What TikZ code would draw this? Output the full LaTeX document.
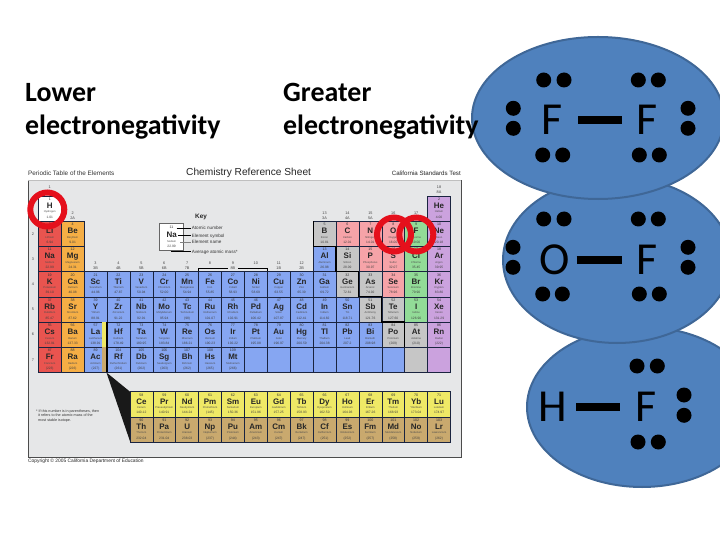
\documentclass[tikz,border=0pt]{standalone}
\usepackage{fontspec}
\usetikzlibrary{shapes.geometric}
\setmainfont{Liberation Sans}
\newfontfamily\headfont{Carlito}
\definecolor{cola}{HTML}{E9544F}
\definecolor{cole}{HTML}{F5AE45}
\definecolor{colt}{HTML}{86A6F2}
\definecolor{colm}{HTML}{C6C6C6}
\definecolor{coln}{HTML}{F6A3A8}
\definecolor{colg}{HTML}{92DB97}
\definecolor{colp}{HTML}{CBA2DE}
\definecolor{colh}{HTML}{FFFFFF}
\definecolor{coll}{HTML}{EFE966}
\definecolor{colc}{HTML}{C9A96E}
\definecolor{panel}{HTML}{E6E7E8}
\definecolor{ink}{HTML}{1A2440}
\definecolor{blob}{HTML}{4F81BD}
\definecolor{blobline}{HTML}{3F6797}
\definecolor{ringred}{HTML}{E5101C}
\newcommand{\fs}[1]{\fontsize{#1}{#1}\selectfont}
\tikzset{
  x=1bp,y=-1bp,
  cellbox/.style={draw=ink,line width=0.5bp,minimum width=22.9bp,minimum height=25.2bp,anchor=north west,inner sep=0,outer sep=0},
  tnum/.style={inner sep=0,font=\fs{3.6},text=black!80,text height=2.6bp,text depth=0pt},
  tsym/.style={inner sep=0,font=\fs{8}\bfseries,text=black!85,text height=5.8bp,text depth=0pt},
  tname/.style={inner sep=0,font=\fs{2.7},text=black!70,text height=2bp,text depth=0pt},
  tmass/.style={inner sep=0,font=\fs{3.3},text=black!75,text height=2.4bp,text depth=0pt},
  grp/.style={inner sep=0,font=\fs{3.8},text=black!75,text height=2.7bp,text depth=0pt},
  keytxt/.style={inner sep=0,anchor=west,font=\fs{4.6},text=black!80,text height=3.3bp,text depth=0pt},
  keyline/.style={draw=black,line width=0.5bp},
  stair/.style={draw=black,line width=1.1bp},
  ringmark/.style={draw=ringred,line width=6bp},
  molblob/.style={draw=blobline,line width=2bp,fill=blob},
  edot/.style={circle,fill=black,minimum size=15bp,inner sep=0},
  atomlabel/.style={inner sep=0,font=\headfont\fs{46},text=black,text height=29.6bp,text depth=0pt},
  bond/.style={draw=black,line width=8.3bp},
  heading/.style={inner sep=0,anchor=base west,font=\headfont\bfseries\fs{28},text=black},
}
\begin{document}
\begin{tikzpicture}
\fill[white] (0,0) rectangle (720,540);
\useasboundingbox (0,0) rectangle (720,540);
% panel
\fill[panel] (28,180) rectangle (461,457);
\draw[black!70,line width=0.8bp] (28,180) -- (28,457) -- (461,457) -- (461,180);
\draw[black!25,line width=0.8bp] (28,180) -- (461,180);
\node[inner sep=0,anchor=base west,font=\fs{6.4},text=black!80] (ttl) at (28,176) {Periodic Table of the Elements};
\node[inner sep=0,anchor=base west,font=\fs{10.2},text=black!85] (ttm) at (186,176) {Chemistry Reference Sheet};
\node[inner sep=0,anchor=base east,font=\fs{6.2},text=black!85] (ttr) at (461,176) {California Standards Test};
\node[inner sep=0,anchor=base west,font=\fs{4.9},text=black!85] (ttc) at (28,462) {Copyright © 2005 California Department of Education};
% cells
\foreach \xc/\xr/\xk/\xn/\xs/\xm/\xw in {
1/1/h/1/H/Hydrogen/1.01,18/1/p/2/He/Helium/4.00,
1/2/a/3/Li/Lithium/6.94,2/2/e/4/Be/Beryllium/9.01,13/2/m/5/B/Boron/10.81,14/2/n/6/C/Carbon/12.01,15/2/n/7/N/Nitrogen/14.01,16/2/n/8/O/Oxygen/16.00,17/2/g/9/F/Fluorine/19.00,18/2/p/10/Ne/Neon/20.18,
1/3/a/11/Na/Sodium/22.99,2/3/e/12/Mg/Magnesium/24.31,13/3/t/13/Al/Aluminum/26.98,14/3/m/14/Si/Silicon/28.09,15/3/n/15/P/Phosphorus/30.97,16/3/n/16/S/Sulfur/32.07,17/3/g/17/Cl/Chlorine/35.45,18/3/p/18/Ar/Argon/39.95,
1/4/a/19/K/Potassium/39.10,2/4/e/20/Ca/Calcium/40.08,3/4/t/21/Sc/Scandium/44.96,4/4/t/22/Ti/Titanium/47.87,5/4/t/23/V/Vanadium/50.94,6/4/t/24/Cr/Chromium/52.00,7/4/t/25/Mn/Manganese/54.94,8/4/t/26/Fe/Iron/55.85,9/4/t/27/Co/Cobalt/58.93,10/4/t/28/Ni/Nickel/58.69,11/4/t/29/Cu/Copper/63.55,12/4/t/30/Zn/Zinc/65.39,13/4/t/31/Ga/Gallium/69.72,14/4/m/32/Ge/Germanium/72.61,15/4/m/33/As/Arsenic/74.92,16/4/n/34/Se/Selenium/78.96,17/4/g/35/Br/Bromine/79.90,18/4/p/36/Kr/Krypton/83.80,
1/5/a/37/Rb/Rubidium/85.47,2/5/e/38/Sr/Strontium/87.62,3/5/t/39/Y/Yttrium/88.91,4/5/t/40/Zr/Zirconium/91.22,5/5/t/41/Nb/Niobium/92.91,6/5/t/42/Mo/Molybdenum/95.94,7/5/t/43/Tc/Technetium/(98),8/5/t/44/Ru/Ruthenium/101.07,9/5/t/45/Rh/Rhodium/102.91,10/5/t/46/Pd/Palladium/106.42,11/5/t/47/Ag/Silver/107.87,12/5/t/48/Cd/Cadmium/112.41,13/5/t/49/In/Indium/114.82,14/5/t/50/Sn/Tin/118.71,15/5/m/51/Sb/Antimony/121.76,16/5/m/52/Te/Tellurium/127.60,17/5/g/53/I/Iodine/126.90,18/5/p/54/Xe/Xenon/131.29,
1/6/a/55/Cs/Cesium/132.91,2/6/e/56/Ba/Barium/137.33,3/6/t/57/La/Lanthanum/138.91,4/6/t/72/Hf/Hafnium/178.49,5/6/t/73/Ta/Tantalum/180.95,6/6/t/74/W/Tungsten/183.84,7/6/t/75/Re/Rhenium/186.21,8/6/t/76/Os/Osmium/190.23,9/6/t/77/Ir/Iridium/192.22,10/6/t/78/Pt/Platinum/195.08,11/6/t/79/Au/Gold/196.97,12/6/t/80/Hg/Mercury/200.59,13/6/t/81/Tl/Thallium/204.38,14/6/t/82/Pb/Lead/207.2,15/6/t/83/Bi/Bismuth/208.98,16/6/m/84/Po/Polonium/(209),17/6/m/85/At/Astatine/(210),18/6/p/86/Rn/Radon/(222),
1/7/a/87/Fr/Francium/(223),2/7/e/88/Ra/Radium/(226),3/7/t/89/Ac/Actinium/(227),4/7/t/104/Rf/Rutherfordium/(261),5/7/t/105/Db/Dubnium/(262),6/7/t/106/Sg/Seaborgium/(263),7/7/t/107/Bh/Bohrium/(262),8/7/t/108/Hs/Hassium/(265),9/7/t/109/Mt/Meitnerium/(266),
5/8.766/l/58/Ce/Cerium/140.12,6/8.766/l/59/Pr/Praseodymium/140.91,7/8.766/l/60/Nd/Neodymium/144.24,8/8.766/l/61/Pm/Promethium/(145),9/8.766/l/62/Sm/Samarium/150.36,10/8.766/l/63/Eu/Europium/151.96,11/8.766/l/64/Gd/Gadolinium/157.25,12/8.766/l/65/Tb/Terbium/158.93,13/8.766/l/66/Dy/Dysprosium/162.50,14/8.766/l/67/Ho/Holmium/164.93,15/8.766/l/68/Er/Erbium/167.26,16/8.766/l/69/Tm/Thulium/168.93,17/8.766/l/70/Yb/Ytterbium/173.04,18/8.766/l/71/Lu/Lutetium/174.97,
5/9.766/c/90/Th/Thorium/232.04,6/9.766/c/91/Pa/Protactinium/231.04,7/9.766/c/92/U/Uranium/238.03,8/9.766/c/93/Np/Neptunium/(237),9/9.766/c/94/Pu/Plutonium/(244),10/9.766/c/95/Am/Americium/(243),11/9.766/c/96/Cm/Curium/(247),12/9.766/c/97/Bk/Berkelium/(247),13/9.766/c/98/Cf/Californium/(251),14/9.766/c/99/Es/Einsteinium/(252),15/9.766/c/100/Fm/Fermium/(257),16/9.766/c/101/Md/Mendelevium/(258),17/9.766/c/102/No/Nobelium/(259),18/9.766/c/103/Lr/Lawrencium/(262)}{
  \pgfmathsetmacro\xa{38.3+(\xc-1)*22.9}
  \pgfmathsetmacro\xb{196+(\xr-1)*25.2}
  \node[cellbox,fill=col\xk] (e\xn) at (\xa,\xb) {};
  \node[tnum] (en\xn) at ([yshift=-3.3bp]e\xn.north) {\xn};
  \node[tsym] (es\xn) at ([yshift=-9.6bp]e\xn.north) {\xs};
  \node[tname] (ea\xn) at ([yshift=-16bp]e\xn.north) {\xm};
  \node[tmass] (em\xn) at ([yshift=-21bp]e\xn.north) {\xw};
}
% empty cells of period 7
\foreach \xc/\xk in {10/t,11/t,12/t,13/t,14/t,15/t,16/t,17/m,18/p}{
  \pgfmathsetmacro\xa{38.3+(\xc-1)*22.9}
  \node[cellbox,fill=col\xk] (z\xc) at (\xa,347.2) {};
}
% group labels
\foreach \xc/\xy/\xt/\xu in {1/187/1/,2/213/2/2A,3/263/3/3B,4/263/4/4B,5/263/5/5B,6/263/6/6B,7/263/7/7B,8/263/8/,9/263/9/8B,10/263/10/,11/263/11/1B,12/263/12/2B,13/213/13/3A,14/213/14/4A,15/213/15/5A,16/213/16/6A,17/213/17/7A,18/187/18/8A}{
  \pgfmathsetmacro\xa{38.3+(\xc-0.5)*22.9}
  \node[grp] (ga\xc) at (\xa,\xy) {\xt};
  \node[grp] (gb\xc) at ([yshift=-5.4bp]ga\xc.center) {\xu};
}
\foreach \xr in {2,...,7}{
  \pgfmathsetmacro\xb{196+(\xr-0.5)*25.2}
  \node[grp] (per\xr) at (33,\xb) {\xr};
}
\coordinate (ba) at (198,271);
\coordinate (bb) at (198,268.4);
\coordinate (bc) at (228,268.4);
\coordinate (bd) at (238,268.4);
\coordinate (be) at (267.7,268.4);
\coordinate (bf) at (267.7,271);
\draw[keyline] (ba) -- (bb) -- (bc) (bd) -- (be) -- (bf);
% staircase
\coordinate (s1) at (313.1,221.2);
\coordinate (s2) at (313.1,246.4);
\coordinate (s3) at (336,246.4);
\coordinate (s4) at (336,271.6);
\coordinate (s5) at (358.9,271.6);
\coordinate (s6) at (358.9,296.8);
\coordinate (s7) at (381.8,296.8);
\coordinate (s8) at (381.8,322);
\coordinate (s9) at (404.7,322);
\coordinate (s10) at (404.7,347.2);
\draw[stair] (s1)--(s2)--(s3)--(s4)--(s5)--(s6)--(s7)--(s8)--(s9)--(s10);
% La/Ac strip and wedge
\fill[coll] (102.3,322.4) rectangle (106.4,347.2);
\fill[colc] (102.3,347.2) rectangle (106.4,372.4);
\draw[black,line width=1.2bp] (107,322.4) -- (107,372.4);
\fill[black!90] (106.4,372.4) -- (130,391.7) -- (130,441.3) -- cycle;
% footnote
\node[inner sep=0,anchor=north west,align=left,font=\fs{3.7},text=black!80] (fn) at (36,409.5) {* If this number is in parentheses, then\\[0.9bp]\ \ it refers to the atomic mass of the\\[0.9bp]\ \ most stable isotope.};
% key
\node[inner sep=0,font=\fs{6.4}\bfseries,text=black!85] (keyt) at (201,217) {Key};
\node[draw=black!60,fill=white,line width=0.9bp,minimum width=24.3bp,minimum height=27bp,anchor=north west,inner sep=0] (kbox) at (159,223) {};
\node[tnum] (k1) at ([yshift=-4.5bp]kbox.north) {11};
\node[tsym] (k2) at ([yshift=-11.5bp]kbox.north) {Na};
\node[tname] (k3) at ([yshift=-18bp]kbox.north) {Sodium};
\node[tmass] (k4) at ([yshift=-23.5bp]kbox.north) {22.99};
\node[keytxt] (l1) at (191.7,228) {Atomic number};
\node[keytxt] (l2) at (191.7,235.7) {Element symbol};
\node[keytxt] (l3) at (191.7,242.3) {Element name};
\node[keytxt] (l4) at (191.7,251.7) {Average atomic mass*};
\coordinate (c1) at (176.7,228);
\coordinate (c2) at (178,235.7);
\coordinate (c3) at (180,242.3);
\coordinate (c4) at (171,251.7);
\draw[keyline] (c1) -- ([xshift=-0.8bp]l1.west);
\draw[keyline] (c2) -- ([xshift=-0.8bp]l2.west);
\draw[keyline,draw=black!50] (c3) -- ([xshift=-0.8bp]l3.west);
\draw[keyline] (c4) -- ([xshift=-1bp]l4.west);
% rings
\node[circle,ringmark,minimum size=34bp,inner sep=0] (rh) at (47.3,209.5) {};
\node[circle,ringmark,minimum size=34bp,inner sep=0] (ro) at (394,234.5) {};
\node[circle,ringmark,minimum size=34bp,inner sep=0] (rf) at (416.3,234.5) {};
% molecules
\node[ellipse,molblob,minimum width=230bp,minimum height=160bp,inner sep=0] (mb) at (642,407) {};
\node[ellipse,molblob,minimum width=228bp,minimum height=166bp,inner sep=0] (mm) at (617,260) {};
\node[ellipse,molblob,minimum width=252bp,minimum height=162bp,inner sep=0] (mt) at (598,118) {};
% F-F
\node[atomlabel] (a1) at (552,120) {F};
\node[atomlabel] (a2) at (647,120) {F};
\draw[bond,shorten <=26bp,shorten >=25bp] (a1.center) -- (a2.center);
\foreach \i/\px/\py in {1/543.7/80,2/564/80,3/638.3/80,4/658.3/80,5/513.3/108.3,6/513.3/128.3,7/688/108.3,8/688/128.3,9/542.7/155,10/562.7/155,11/639.3/155,12/659.3/155}{
  \node[edot] (d\i) at (\px,\py) {};
}
% O-F
\node[atomlabel] (b1) at (555,260) {O};
\node[atomlabel] (b2) at (647,260) {F};
\draw[bond,shorten <=21.7bp,shorten >=24.7bp] (b1.center) -- (b2.center);
\foreach \i/\px/\py in {1/543.7/219,2/564/219,3/638.3/219,4/658.3/219,5/513/247.3,6/513/267.3,7/688/247.3,8/688/267.3,9/542.7/294,10/562.3/294,11/639.3/294,12/659.3/294}{
  \node[edot] (o\i) at (\px,\py) {};
}
% H-F
\node[atomlabel] (c1n) at (553,407) {H};
\node[atomlabel] (c2n) at (646,407) {F};
\draw[bond,shorten <=23bp,shorten >=26bp] (c1n.center) -- (c2n.center);
\foreach \i/\px/\py in {1/637/366,2/657.3/366,3/684/395,4/684/415.3,5/638/442,6/658.3/442}{
  \node[edot] (h\i) at (\px,\py) {};
}
% headings
\node[heading] (h1a) at (25,102) {Lower};
\node[heading] (h1b) at (25,135) {electronegativity};
\node[heading] (h2a) at (283,102) {Greater};
\node[heading] (h2b) at (283,135) {electronegativity};
\end{tikzpicture}
\end{document}
